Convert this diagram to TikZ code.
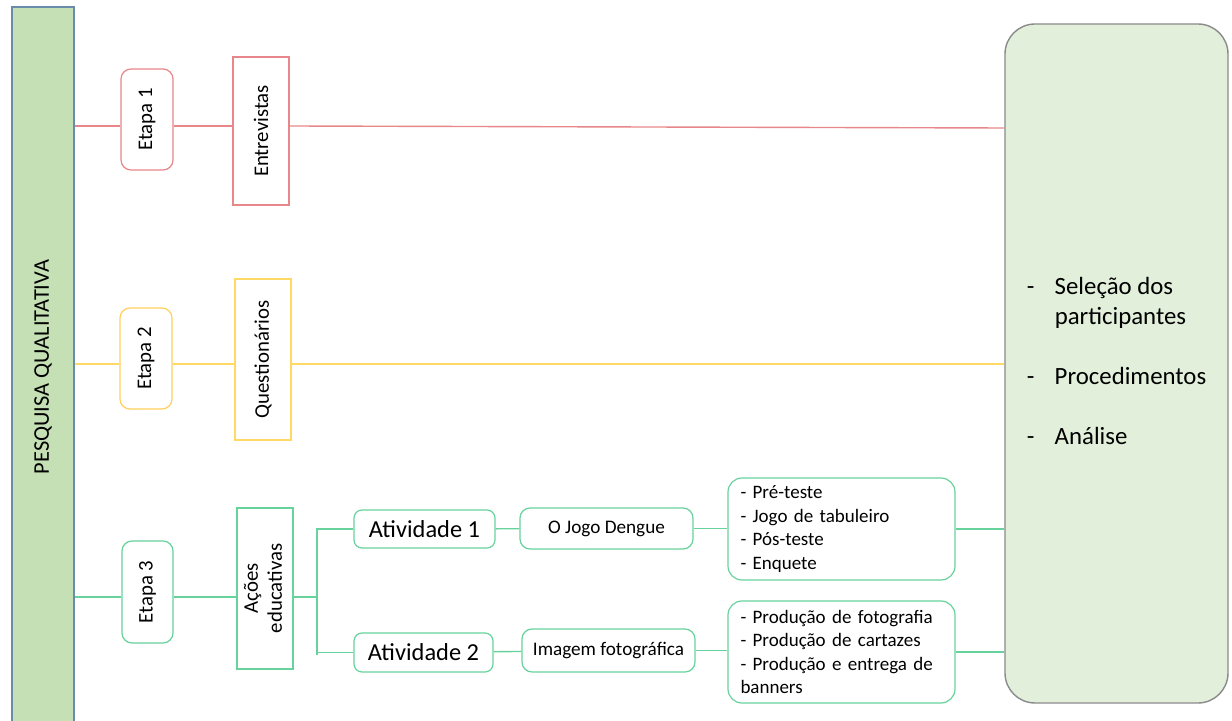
\documentclass[tikz,border=0pt]{standalone}
\usepackage{fontspec}
\setmainfont{Carlito}
\definecolor{etred}{HTML}{E8878A}
\definecolor{etyellow}{HTML}{FFD966}
\definecolor{etgreen}{HTML}{68D29D}
\definecolor{barfill}{HTML}{C5E0B4}
\definecolor{barline}{HTML}{6A8CAB}
\definecolor{sumfill}{HTML}{E2EFDA}
\definecolor{sumline}{HTML}{8A8A8A}
\tikzset{
  etapabox/.style={draw, fill=white, rounded corners=5pt, line width=0.6pt, inner sep=0pt,
    minimum width=26pt, font=\fontsize{10.4}{12}\selectfont},
  tecbox/.style={draw, fill=white, line width=0.6pt, inner sep=0pt,
    minimum width=28pt, font=\fontsize{10.4}{12}\selectfont},
  ativbox/.style={draw=etgreen, rounded corners=4pt, line width=0.6pt, inner sep=0pt,
    font=\fontsize{12.2}{14}\selectfont},
  jogobox/.style={draw=etgreen, rounded corners=5pt, line width=0.6pt, inner sep=0pt,
    minimum width=86.5pt, font=\fontsize{9.6}{11}\selectfont},
  listbox/.style={draw=etgreen, rounded corners=7pt, line width=0.6pt, inner sep=0pt,
    minimum width=113.5pt, minimum height=51pt, text width=101pt, align=left,
    font=\fontsize{9.5}{11.7}\selectfont},
  link/.style={line width=0.7pt},
}

\begin{document}
\begin{tikzpicture}[x=0.5pt, y=-0.5pt]
\useasboundingbox (0,0) rectangle (1232,721);

% eixo principal
\node[draw=barline, fill=barfill, line width=0.6pt, inner sep=0pt, minimum width=31pt,
  minimum height=360pt, font=\fontsize{11.2}{13}\selectfont] (bar) at (43,367)
  {\rotatebox{90}{PESQUISA QUALITATIVA}};

% etapas
\node[etapabox, draw=etred, minimum height=50.5pt] (et1) at (147,119.5) {\rotatebox{90}{Etapa 1}};
\node[etapabox, draw=etyellow!90!orange, minimum height=50.5pt] (et2) at (146,358.5) {\rotatebox{90}{Etapa 2}};
\node[etapabox, draw=etgreen, minimum height=51pt, minimum width=25.5pt] (et3) at (147.5,592) {\rotatebox{90}{Etapa 3}};

\node[tecbox, draw=etred, minimum height=74pt] (ent) at (261,131) {\rotatebox{90}{Entrevistas}};
\node[tecbox, draw=etyellow, minimum height=80.5pt] (que) at (263,359.5) {\rotatebox{90}{Questionários}};
\node[tecbox, draw=etgreen, minimum height=80.5pt] (aco) at (265,588.5)
  {\rotatebox{90}{\begin{tabular}{@{}c@{}}Ações\\educativas\end{tabular}}};

% atividades
\node[ativbox, minimum width=70.5pt, minimum height=19pt] (at1) at (424.5,529) {Atividade 1};
\node[ativbox, minimum width=69.5pt, minimum height=19.5pt] (at2) at (423.5,652.5) {Atividade 2};
\node[jogobox, minimum height=20.5pt] (jogo) at (606.5,528.5) {O Jogo Dengue};
\node[jogobox, minimum height=21.5pt] (img) at (608.5,650.5) {Imagem fotográfica};

\node[listbox] (lst1) at (841.5,529) {- Pré-teste\\- Jogo de tabuleiro\\- Pós-teste\\- Enquete};
\node[listbox] (lst2) at (841.5,652)
  {- Produção de fotografia\\- Produção de cartazes\\\makebox[\linewidth][s]{- Produção e entrega de}\\banners};

% resumo
\node[draw=sumline, fill=sumfill, line width=0.7pt, rounded corners=15pt, inner sep=0pt,
  minimum width=111.5pt, minimum height=339.5pt, font=\fontsize{12.4}{15}\selectfont] (sum) at (1116.5,363.5)
  {\begin{tabular}{@{}p{14pt}@{}l@{}}
   - & Seleção dos\\
     & participantes\\[15pt]
   - & Procedimentos\\[15pt]
   - & Análise
   \end{tabular}};

% ligacoes
\coordinate (l1) at (0,126);
\coordinate (l2) at (0,364);
\coordinate (l3) at (0,597);
\coordinate (brend) at (317,655);

\draw[link, etred] (bar.east |- l1) -- (et1.west |- l1);
\draw[link, etred] (et1.east |- l1) -- (ent.west |- l1);
\draw[link, etred] (ent.east |- l1) -- (sum.west |- 0,128);

\draw[link, etyellow] (bar.east |- l2) -- (et2.west |- l2);
\draw[link, etyellow] (et2.east |- l2) -- (que.west |- l2);
\draw[link, etyellow] (que.east |- l2) -- (sum.west |- l2);

\draw[link, etgreen] (bar.east |- l3) -- (et3.west |- l3);
\draw[link, etgreen] (et3.east |- l3) -- (aco.west |- l3);
\draw[link, etgreen] (aco.east |- l3) -- (brend |- l3);
\draw[link, etgreen] (at1.west) -| (brend);
\draw[link, etgreen] (at2.west) -- (at2.west -| brend);
\draw[link, etgreen] (at1) -- (jogo);
\draw[link, etgreen] (at2) -- (img);
\draw[link, etgreen] (jogo) -- (jogo -| lst1.west);
\draw[link, etgreen] (img) -- (img -| lst2.west);
\draw[link, etgreen] (lst1.east) -- (lst1.east -| sum.west);
\draw[link, etgreen] (lst2.east) -- (lst2.east -| sum.west);

\end{tikzpicture}
\end{document}
